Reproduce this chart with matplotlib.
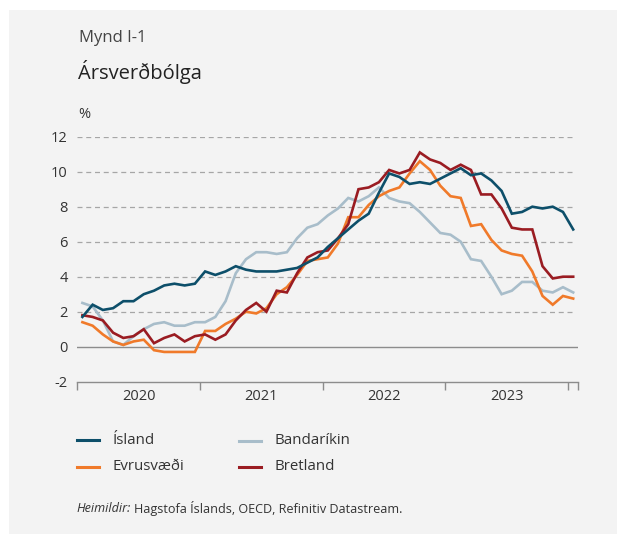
import matplotlib
matplotlib.use('Agg')
import matplotlib.pyplot as plt

plt.rcParams['font.family'] = ['Open Sans', 'DejaVu Sans']

BG = '#f3f3f3'
TXT = '#333333'

# monthly annual inflation, Jan 2020 - Jan 2024 (%)
island = [1.7, 2.4, 2.1, 2.2, 2.6, 2.6, 3.0, 3.2, 3.5, 3.6, 3.5, 3.6,
          4.3, 4.1, 4.3, 4.6, 4.4, 4.3, 4.3, 4.3, 4.4, 4.5, 4.8, 5.1,
          5.7, 6.2, 6.7, 7.2, 7.6, 8.8, 9.9, 9.7, 9.3, 9.4, 9.3, 9.6,
          9.9, 10.2, 9.8, 9.9, 9.5, 8.9, 7.6, 7.7, 8.0, 7.9, 8.0, 7.7,
          6.7]
evrusvaedi = [1.4, 1.2, 0.7, 0.3, 0.1, 0.3, 0.4, -0.2, -0.3, -0.3, -0.3, -0.3,
              0.9, 0.9, 1.3, 1.6, 2.0, 1.9, 2.2, 3.0, 3.4, 4.1, 4.9, 5.0,
              5.1, 5.9, 7.4, 7.4, 8.1, 8.6, 8.9, 9.1, 9.9, 10.6, 10.1, 9.2,
              8.6, 8.5, 6.9, 7.0, 6.1, 5.5, 5.3, 5.2, 4.3, 2.9, 2.4, 2.9,
              2.75]
bandarikin = [2.5, 2.3, 1.5, 0.3, 0.1, 0.6, 1.0, 1.3, 1.4, 1.2, 1.2, 1.4,
              1.4, 1.7, 2.6, 4.2, 5.0, 5.4, 5.4, 5.3, 5.4, 6.2, 6.8, 7.0,
              7.5, 7.9, 8.5, 8.3, 8.6, 9.1, 8.5, 8.3, 8.2, 7.7, 7.1, 6.5,
              6.4, 6.0, 5.0, 4.9, 4.0, 3.0, 3.2, 3.7, 3.7, 3.2, 3.1, 3.4,
              3.1]
bretland = [1.8, 1.7, 1.5, 0.8, 0.5, 0.6, 1.0, 0.2, 0.5, 0.7, 0.3, 0.6,
            0.7, 0.4, 0.7, 1.5, 2.1, 2.5, 2.0, 3.2, 3.1, 4.2, 5.1, 5.4,
            5.5, 6.2, 7.0, 9.0, 9.1, 9.4, 10.1, 9.9, 10.1, 11.1, 10.7, 10.5,
            10.1, 10.4, 10.1, 8.7, 8.7, 7.9, 6.8, 6.7, 6.7, 4.6, 3.9, 4.0,
            4.0]
years = ['2020', '2021', '2022', '2023']
yticks = [-2, 0, 2, 4, 6, 8, 10, 12]

series = [
    ('Ísland', island, '#0d4f6a'),
    ('Evrusvæði', evrusvaedi, '#f07a2a'),
    ('Bandaríkin', bandarikin, '#a8bdca'),
    ('Bretland', bretland, '#9a1c22'),
]

fig = plt.figure(figsize=(6.17, 5.34), dpi=100)
fig.patch.set_facecolor('white')
fig.patches.append(plt.Rectangle((9 / 617, 0), 1, 1 - 10 / 534,
                                 transform=fig.transFigure,
                                 facecolor=BG, edgecolor='none', zorder=-10))

ax = fig.add_axes([77.3 / 617, (534 - 381.7) / 534, 501 / 617, 245 / 534])
ax.set_facecolor(BG)

x = list(range(len(island)))
draw_order = [2, 1, 3, 0]
for i in draw_order:
    name, vals, col = series[i]
    ax.plot(x, vals, color=col, lw=1.9, solid_joinstyle='miter', zorder=3)

ax.set_xlim(-0.5, len(island) - 0.5)
ax.set_ylim(-2, 12)

for yv in yticks[2:]:
    ax.axhline(yv, xmax=0.992, color='#a6a6a6', lw=0.9, ls=(0, (4, 3)), zorder=1)
ax.axhline(0, color='#8c8c8c', lw=1.0, zorder=2)

for s in ['top', 'right', 'left']:
    ax.spines[s].set_visible(False)
ax.spines['bottom'].set_color('#8c8c8c')
ax.spines['bottom'].set_linewidth(1.0)

ax.set_yticks(yticks)
ax.set_yticklabels([str(v) for v in yticks])
ax.tick_params(axis='y', length=0, pad=7, labelsize=10.5, labelcolor=TXT)

ax.set_xticks([-0.5, 11.5, 23.5, 35.5, 47.5, 48.5])
ax.set_xticklabels([])
ax.tick_params(axis='x', which='major', length=6, width=1.0, color='#8c8c8c')
ax.set_xticks([5.5, 17.5, 29.5, 41.5], minor=True)
ax.set_xticklabels(years, minor=True)
ax.tick_params(axis='x', which='minor', length=0, pad=5, labelsize=10.5,
               labelcolor=TXT)

fig.text(79 / 617, 1 - 38 / 534, 'Mynd I-1', fontsize=12, color='#444444',
         va='center', ha='left')
fig.text(78 / 617, 1 - 72 / 534, 'Ársverðbólga', fontsize=14.5, color='#222222',
         va='center', ha='left')
fig.text(78 / 617, 1 - 115 / 534, '%', fontsize=10.5, color=TXT,
         va='center', ha='left')

# legend
leg_pos = [(77, 440), (77, 467), (239, 441), (239, 467)]
for (name, vals, col), (lx, ly) in zip(series, leg_pos):
    fig.add_artist(plt.Line2D([lx / 617, (lx + 22) / 617],
                              [1 - ly / 534, 1 - ly / 534],
                              color=col, lw=2.2, transform=fig.transFigure))
    fig.text((lx + 36) / 617, 1 - ly / 534, name, fontsize=10.8, color=TXT,
             va='center', ha='left')

src = fig.text(76 / 617, 1 - 509 / 534, 'Heimildir:', fontsize=9.1,
               style='italic', color=TXT, va='center', ha='left')
fig.canvas.draw()
bb = src.get_window_extent()
fig.text((bb.x1 + 4) / 617, 1 - 509 / 534,
         'Hagstofa Íslands, OECD, Refinitiv Datastream.', fontsize=9.1,
         color=TXT, va='center', ha='left')

fig.savefig('out.png', dpi=100, facecolor='white')
